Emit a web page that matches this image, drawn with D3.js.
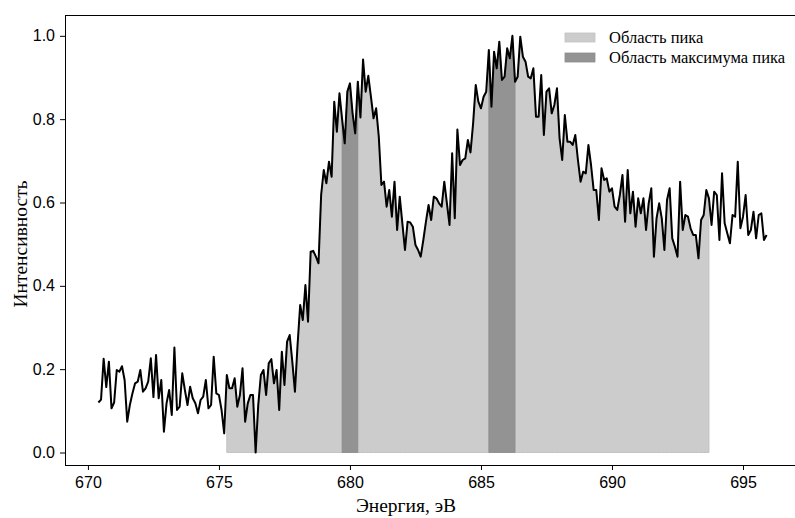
<!DOCTYPE html>
<html>
<head>
<meta charset="utf-8">
<script src="https://cdn.jsdelivr.net/npm/d3@7"></script>
<style>
  body { margin: 0; background: #fff; }
  svg { display: block; font-family: "Liberation Serif", "Times New Roman", serif; }
  .tick text { font-size: 16px; fill: #000; }
  .tick line { stroke: #000; stroke-width: 1; }
</style>
</head>
<body>
<svg id="chart" width="795" height="518"></svg>
<script>
// energy grid (eV), sampled every 0.1 eV
const energyStart = 670.4;
const energyStep = 0.1;

// intensities
const intensity = [
  0.120,0.127,0.225,0.157,0.218,0.106,0.120,0.198,0.194,0.207,
  0.174,0.074,0.114,0.142,0.166,0.170,0.198,0.146,0.154,0.170,
  0.226,0.133,0.234,0.130,0.174,0.050,0.118,0.150,0.090,0.252,
  0.102,0.110,0.190,0.150,0.114,0.158,0.130,0.118,0.094,0.126,
  0.134,0.174,0.106,0.114,0.230,0.142,0.138,0.102,0.046,0.186,
  0.154,0.154,0.178,0.110,0.138,0.202,0.074,0.118,0.138,0.138,
  0.000,0.114,0.186,0.198,0.138,0.214,0.224,0.166,0.198,0.102,
  0.242,0.162,0.266,0.282,0.218,0.146,0.258,0.354,0.318,0.402,
  0.314,0.482,0.484,0.470,0.454,0.618,0.678,0.646,0.698,0.662,
  0.842,0.770,0.862,0.800,0.742,0.866,0.886,0.814,0.766,0.890,
  0.804,0.943,0.866,0.904,0.854,0.802,0.826,0.758,0.642,0.650,
  0.590,0.630,0.566,0.650,0.534,0.614,0.550,0.486,0.554,0.552,
  0.542,0.498,0.486,0.470,0.510,0.554,0.594,0.558,0.614,0.610,
  0.598,0.590,0.650,0.598,0.546,0.718,0.562,0.775,0.690,0.702,
  0.706,0.750,0.720,0.790,0.882,0.842,0.826,0.854,0.866,0.966,
  0.830,0.962,0.922,0.986,0.894,0.902,0.970,0.946,1.000,0.890,
  0.902,0.998,0.950,0.938,0.902,0.898,0.922,0.806,0.806,0.906,
  0.762,0.866,0.874,0.814,0.834,0.874,0.754,0.702,0.810,0.746,
  0.746,0.738,0.762,0.702,0.650,0.674,0.670,0.738,0.690,0.630,
  0.630,0.558,0.682,0.654,0.658,0.626,0.634,0.590,0.582,0.618,
  0.666,0.554,0.678,0.574,0.626,0.542,0.610,0.574,0.610,0.534,
  0.598,0.634,0.470,0.562,0.598,0.562,0.486,0.606,0.634,0.514,
  0.494,0.470,0.650,0.534,0.570,0.566,0.538,0.522,0.522,0.466,
  0.558,0.570,0.630,0.610,0.546,0.626,0.618,0.510,0.670,0.550,
  0.526,0.502,0.570,0.566,0.698,0.538,0.566,0.618,0.522,0.534,
  0.578,0.514,0.570,0.574,0.510,0.522
];

// shaded ranges (eV)
const peakRegion = [675.3, 693.7];
const maxRegions = [[679.7, 680.3], [685.3, 686.3]];

const xTicks = [670, 675, 680, 685, 690, 695];
const yTicks = [0.0, 0.2, 0.4, 0.6, 0.8, 1.0];
const legendLabels = ["Область пика", "Область максимума пика"];
const legendColors = ["#cccccc", "#939393"];

const data = intensity.map((v, i) => ({ e: energyStart + i * energyStep, v: v }));

const svg = d3.select("#chart");
const plot = { left: 65, top: 15, right: 800, bottom: 465 };

const eMin = d3.min(data, d => d.e), eMax = d3.max(data, d => d.e);
const pad = (eMax - eMin) * 0.05;
const x = d3.scaleLinear().domain([eMin - pad, eMax + pad]).range([plot.left, plot.right]);
const y = d3.scaleLinear().domain([-0.03, 1.05]).range([plot.bottom, plot.top]);

svg.append("defs").append("clipPath").attr("id", "clip")
  .append("rect")
  .attr("x", plot.left).attr("y", plot.top)
  .attr("width", plot.right - plot.left).attr("height", plot.bottom - plot.top);

const g = svg.append("g").attr("clip-path", "url(#clip)");

const area = d3.area()
  .x(d => x(d.e))
  .y0(y(0))
  .y1(d => y(d.v));

function inRange(d, r) { return d.e >= r[0] - 1e-6 && d.e <= r[1] + 1e-6; }

// light peak region
g.append("path")
  .datum(data.filter(d => inRange(d, peakRegion)))
  .attr("d", area)
  .attr("fill", legendColors[0])
  .attr("stroke", "#c2c2c2")
  .attr("stroke-width", 1);

// darker max regions
maxRegions.forEach(r => {
  g.append("path")
    .datum(data.filter(d => inRange(d, r)))
    .attr("d", area)
    .attr("fill", legendColors[1])
    .attr("stroke", "#8c8c8c")
    .attr("stroke-width", 0.8);
});

// spectrum line
g.append("path")
  .datum(data)
  .attr("d", d3.line().x(d => x(d.e)).y(d => y(d.v)))
  .attr("fill", "none")
  .attr("stroke", "#000")
  .attr("stroke-width", 2)
  .attr("stroke-linejoin", "round");

// axes
const xAxis = svg.append("g")
  .attr("transform", `translate(0,${plot.bottom})`)
  .call(d3.axisBottom(x).tickValues(xTicks).tickFormat(d3.format("d")).tickSize(5).tickPadding(7));
xAxis.select(".domain").remove();

const yAxis = svg.append("g")
  .attr("transform", `translate(${plot.left},0)`)
  .call(d3.axisLeft(y).tickValues(yTicks).tickFormat(d3.format(".1f")).tickSize(5).tickPadding(5));
yAxis.select(".domain").remove();

// spines
svg.append("rect")
  .attr("x", plot.left + 0.5).attr("y", plot.top + 0.5)
  .attr("width", plot.right - plot.left).attr("height", plot.bottom - plot.top)
  .attr("fill", "none").attr("stroke", "#000").attr("stroke-width", 1);

// axis labels
svg.append("text")
  .attr("x", 406).attr("y", 512)
  .attr("text-anchor", "middle")
  .style("font-size", "19.5px")
  .text("Энергия, эВ");

svg.append("text")
  .attr("transform", "translate(27,244) rotate(-90)")
  .attr("text-anchor", "middle")
  .style("font-size", "19.5px")
  .text("Интенсивность");

// legend
const legend = svg.append("g").attr("transform", "translate(565,33)");
legendLabels.forEach((lab, i) => {
  const row = legend.append("g").attr("transform", `translate(0,${i * 20})`);
  row.append("rect")
    .attr("width", 30).attr("height", 9)
    .attr("fill", legendColors[i])
    .attr("stroke", i === 0 ? "#c2c2c2" : "#8c8c8c").attr("stroke-width", 0.8);
  row.append("text")
    .attr("x", 44).attr("y", 10)
    .style("font-size", "16.5px")
    .text(lab);
});
</script>
</body>
</html>
